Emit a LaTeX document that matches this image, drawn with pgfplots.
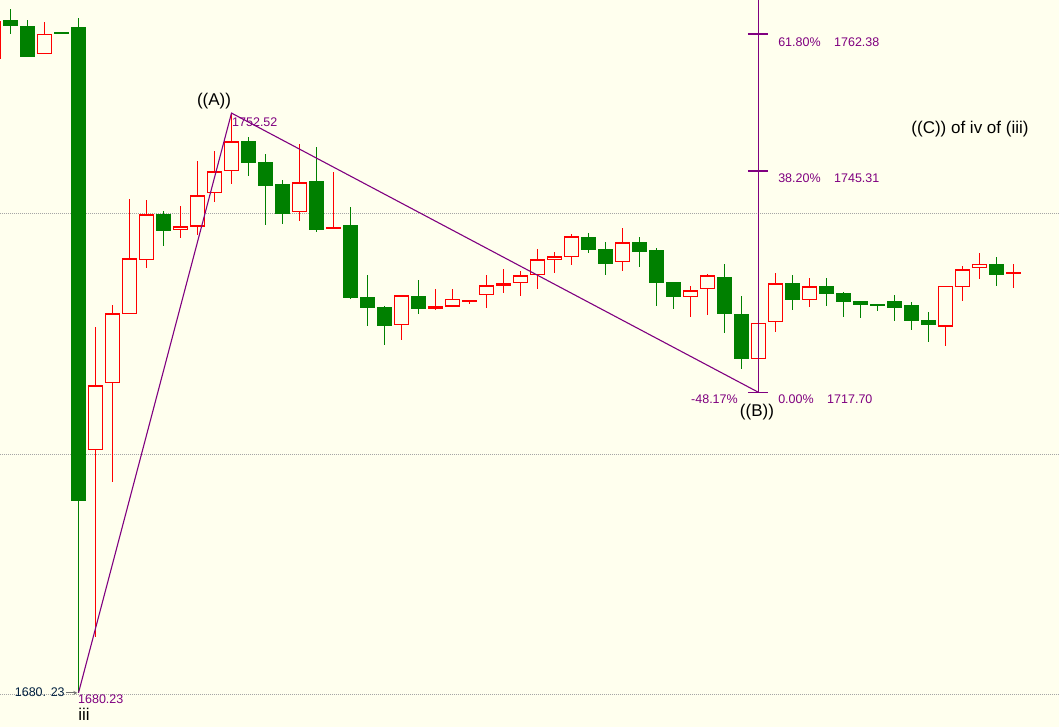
\documentclass[border=0pt]{standalone}
\usepackage{pgfplots}
\pgfplotsset{compat=1.18}
\usepackage{pgfplotstable}
\usepackage{fontspec}
\setmainfont{Liberation Sans}
\definecolor{bgc}{RGB}{255,255,238}
\definecolor{cgreen}{RGB}{0,128,0}
\definecolor{cred}{RGB}{255,0,0}
\definecolor{cpurp}{RGB}{128,0,128}
\definecolor{cnavy}{RGB}{0,32,64}

% up candles (close > open), drawn hollow red
\pgfplotstableread{
x o h l c
-1 1759.26 1764.00 1759.26 1764.00
2 1759.85 1763.88 1759.85 1762.38
5 1710.47 1725.85 1687.19 1718.58
6 1718.83 1728.59 1706.56 1727.56
7 1727.43 1741.81 1727.43 1734.41
8 1734.16 1741.68 1733.17 1739.90
10 1737.91 1740.94 1736.98 1738.40
11 1738.35 1746.55 1737.32 1742.27
12 1742.52 1747.79 1741.47 1745.26
13 1745.26 1752.52 1743.64 1749.00
17 1740.15 1748.67 1739.10 1743.89
19 1738.15 1745.21 1738.15 1738.23
23 1726.06 1729.80 1724.26 1729.80
25 1728.13 1730.59 1727.93 1728.47
26 1728.38 1730.59 1728.38 1729.34
27 1729.00 1729.21 1728.75 1729.18
28 1729.80 1732.33 1728.25 1731.05
29 1731.00 1733.08 1730.09 1731.30
30 1731.30 1732.83 1729.75 1732.29
31 1732.29 1735.57 1730.62 1734.29
32 1734.16 1735.20 1732.62 1734.66
33 1734.54 1737.44 1733.62 1737.16
36 1733.92 1738.19 1732.87 1736.41
40 1729.55 1730.96 1727.13 1730.42
41 1730.55 1732.46 1727.38 1732.29
44 1721.82 1726.35 1721.82 1726.35
45 1726.43 1732.58 1725.26 1731.30
47 1729.18 1731.96 1728.30 1730.92
55 1725.89 1730.96 1723.52 1730.96
56 1730.80 1733.45 1729.13 1733.04
57 1733.17 1735.07 1731.87 1733.70
59 1732.49 1733.70 1730.75 1732.71
}\upc

% down candles (close < open), drawn filled green
\pgfplotstableread{
x o h l c
0 1764.13 1765.50 1762.42 1763.42
1 1763.38 1764.13 1759.48 1759.55
3 1762.59 1762.59 1762.44 1762.44
4 1763.25 1764.38 1680.23 1704.15
9 1739.94 1740.31 1735.99 1737.86
14 1749.04 1749.54 1744.71 1746.33
15 1746.42 1747.42 1738.60 1743.47
16 1743.68 1744.18 1738.73 1739.98
18 1744.05 1748.29 1737.73 1737.98
20 1738.57 1740.81 1729.30 1729.46
21 1729.59 1732.37 1725.97 1728.25
22 1728.34 1728.47 1723.60 1726.01
24 1729.71 1731.71 1727.51 1728.13
34 1737.07 1737.57 1735.11 1735.49
35 1735.57 1736.45 1732.37 1733.74
37 1736.45 1737.07 1733.37 1735.24
38 1735.45 1735.70 1728.50 1731.37
39 1731.46 1731.46 1728.13 1729.63
42 1732.08 1733.70 1725.14 1727.51
43 1727.51 1729.71 1720.57 1721.82
46 1731.33 1732.33 1728.00 1729.25
48 1730.96 1731.96 1728.50 1730.00
49 1730.09 1730.21 1727.13 1729.00
50 1729.09 1729.09 1727.01 1728.55
51 1728.75 1728.75 1727.88 1728.55
52 1729.09 1729.84 1726.63 1728.25
53 1728.59 1728.96 1725.51 1726.63
54 1726.76 1727.72 1724.01 1726.13
58 1733.70 1734.58 1731.00 1732.37
}\downc

\begin{document}
\begin{tikzpicture}
\begin{axis}[
  scale only axis, width=1059bp, height=727bp,
  xmin=-0.6176, xmax=61.676, ymin=1675.97, ymax=1766.62,
  axis background/.style={fill=bgc},
  axis line style={draw=none},
  xtick=\empty, ytick={1680,1710,1740}, yticklabels={}, major tick length=0pt,
  ymajorgrids, major grid style={draw=black!35, dash pattern=on 1bp off 1bp, line width=0.8bp},
  clip=true,
  candle/.style={draw=none, mark=none, /pgfplots/error bars/y dir=both, /pgfplots/error bars/y explicit, /pgfplots/error bars/error mark=none},
]
% wicks
\addplot[candle, /pgfplots/error bars/error bar style={draw=cred, line width=1.5bp, solid}]
  table[x=x, y expr={(\thisrow{h}+\thisrow{l})/2}, y error expr={(\thisrow{h}-\thisrow{l})/2}] {\upc};
\addplot[candle, /pgfplots/error bars/error bar style={draw=cgreen, line width=1.5bp, solid}]
  table[x=x, y expr={(\thisrow{h}+\thisrow{l})/2}, y error expr={(\thisrow{h}-\thisrow{l})/2}] {\downc};
% green bodies
\addplot[candle, /pgfplots/error bars/error bar style={draw=cgreen, line width=15bp, solid}]
  table[x=x, y expr={(\thisrow{o}+\thisrow{c})/2}, y error expr={max(abs(\thisrow{o}-\thisrow{c})/2,0.1)}] {\downc};
% red hollow bodies
\addplot[candle, /pgfplots/error bars/error bar style={draw=cred, line width=15bp, solid}]
  table[x=x, y expr={(\thisrow{o}+\thisrow{c})/2}, y error expr={max(abs(\thisrow{o}-\thisrow{c})/2,0.17)}] {\upc};
\addplot[candle, /pgfplots/error bars/error bar style={draw=bgc, line width=12.2bp, solid}]
  table[x=x, y expr={(\thisrow{o}+\thisrow{c})/2}, y error expr={max(abs(\thisrow{o}-\thisrow{c})/2-0.175,0)}] {\upc};

% wave line
\addplot[cpurp, line width=1.1bp] coordinates {(4,1680.23) (13,1752.52) (44,1717.70)};
% fibonacci extension
\addplot[cpurp, line width=1.3bp] coordinates {(44,1717.70) (44,1767)};
\addplot[cpurp, line width=1.3bp] coordinates {(43.38,1762.38) (44.56,1762.38)};
\addplot[cpurp, line width=1.3bp] coordinates {(43.38,1745.31) (44.56,1745.31)};
\addplot[cpurp, line width=1.3bp] coordinates {(43.38,1717.70) (44.56,1717.70)};
% low marker arrow
\addplot[black!55, line width=0.8bp, -stealth] coordinates {(3.27,1680.23) (3.93,1680.23)};

\pgfkeys{/tikz/small/.style={font=\fontsize{12.5bp}{14bp}\selectfont, inner sep=0pt}}
\pgfkeys{/tikz/big/.style={font=\fontsize{17bp}{19bp}\selectfont, inner sep=0pt}}
\node[big, anchor=center] at (axis cs:11.97,1754.03) {((A))};
\node[small, text=cpurp, anchor=west] at (axis cs:13.03,1751.41) {1752.52};
\node[small, text=cnavy, anchor=east] at (axis cs:3.2,1680.34) {1680. 23};
\node[small, text=cpurp, anchor=west] at (axis cs:3.97,1679.46) {1680.23};
\node[big, anchor=center] at (axis cs:4.32,1677.59) {iii};
\node[small, text=cpurp, anchor=west] at (axis cs:45.15,1761.38) {61.80\%};
\node[small, text=cpurp, anchor=west] at (axis cs:48.44,1761.38) {1762.38};
\node[small, text=cpurp, anchor=west] at (axis cs:45.15,1744.43) {38.20\%};
\node[small, text=cpurp, anchor=west] at (axis cs:48.44,1744.43) {1745.31};
\node[small, text=cpurp, anchor=west] at (axis cs:45.15,1716.87) {0.00\%};
\node[small, text=cpurp, anchor=west] at (axis cs:48.03,1716.87) {1717.70};
\node[small, text=cpurp, anchor=east] at (axis cs:42.79,1716.87) {-48.17\%};
\node[big, anchor=center] at (axis cs:43.91,1715.25) {((B))};
\node[big, anchor=center] at (axis cs:56.44,1750.54) {((C)) of iv of (iii)};
\end{axis}
\pgfresetboundingbox
\path[use as bounding box] (current axis.south west) rectangle (current axis.north east);
\end{tikzpicture}
\end{document}
